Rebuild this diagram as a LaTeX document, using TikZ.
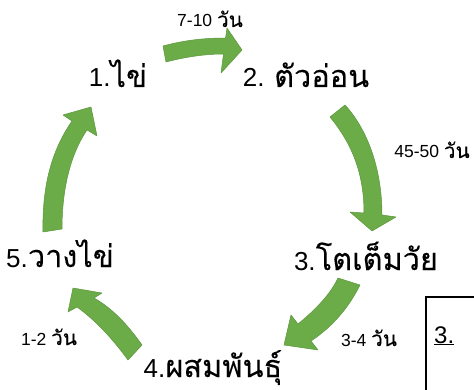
\documentclass[tikz,border=0pt]{standalone}
\usepackage{fontspec}
\setmainfont{Liberation Sans}
\newfontfamily\thaifont[Script=Thai,Scale=1.18,FakeBold=0.12]{Loma}
\definecolor{arrowgreen}{RGB}{108,172,72}
\definecolor{arrowedge}{RGB}{90,150,60}
\tikzset{
  stage/.style={anchor=base, inner sep=0pt, font=\fontsize{26}{28}\selectfont},
  days/.style={anchor=base, inner sep=0pt, font=\fontsize{17.5}{19}\selectfont},
  blockarrow/.style={fill=arrowgreen, draw=arrowedge, line width=0.5pt, line join=round},
  boxline/.style={draw=black, line width=1.3pt}
}
\begin{document}
\begin{tikzpicture}[x=1pt, y=-1pt]
\useasboundingbox (0,0) rectangle (474,390);
\fill[white] (0,0) rectangle (474,390);

% stage labels
\node[stage] (s1) at (118,87) {1.{\thaifont ไข่}};
\node[stage] (s2) at (306,87) {2. {\thaifont ตัวอ่อน}};
\node[stage] (s3) at (366,270) {3.{\thaifont โตเต็มวัย}};
\node[stage] (s4) at (213,377) {4.{\thaifont ผสมพันธุ์}};
\node[stage] (s5) at (60,267) {5.{\thaifont วางไข่}};

% duration labels
\node[days] (d12) at (210,27) {7-10 {\thaifont วัน}};
\node[days] (d23) at (432,158) {45-50 {\thaifont วัน}};
\node[days] (d34) at (369,346) {3-4 {\thaifont วัน}};
\node[days] (d45) at (49,345) {1-2 {\thaifont วัน}};

% block arrows
% 1 -> 2
\path[blockarrow] (163,46) .. controls (185,40) and (205,38) .. (225.6,38)
  -- (227,28) -- (242,50) -- (221,73) -- (223.5,54)
  .. controls (205,54) and (185,57) .. (166,62) -- cycle;
% 2 -> 3
\path[blockarrow] (330,117) -- (345,105) .. controls (368,130) and (382,170) .. (382,215)
  -- (396,217) -- (372,231) -- (350,212) -- (364,213)
  .. controls (364,175) and (353,145) .. (330,117) -- cycle;
% 3 -> 4
\path[blockarrow] (338,278) -- (360,285) .. controls (350,305) and (335,325) .. (311,341)
  -- (318,350) -- (284,345) -- (291,315) -- (298,324)
  .. controls (315,310) and (330,295) .. (338,278) -- cycle;
% 4 -> 5
\path[blockarrow] (142,345) .. controls (128,325) and (112,308) .. (94,298)
  -- (102,293) -- (73,288) -- (68,312) -- (77,307)
  .. controls (95,320) and (112,338) .. (128,360) -- cycle;
% 5 -> 1
\path[blockarrow] (43,232) .. controls (42,185) and (52,150) .. (72,121)
  -- (63,115) -- (91,107) -- (97,136) -- (87,130)
  .. controls (70,155) and (62,190) .. (62,229) -- cycle;

% partial box at bottom right
\coordinate (bxa) at (474,297);
\coordinate (bxb) at (426,297);
\coordinate (bxc) at (426,390);
\draw[boxline] (bxa) -- (bxb) -- (bxc);
\node[anchor=base west, inner sep=0pt, font=\fontsize{24}{26}\selectfont] (b3) at (434,343) {\underline{3.}};
\end{tikzpicture}
\end{document}
